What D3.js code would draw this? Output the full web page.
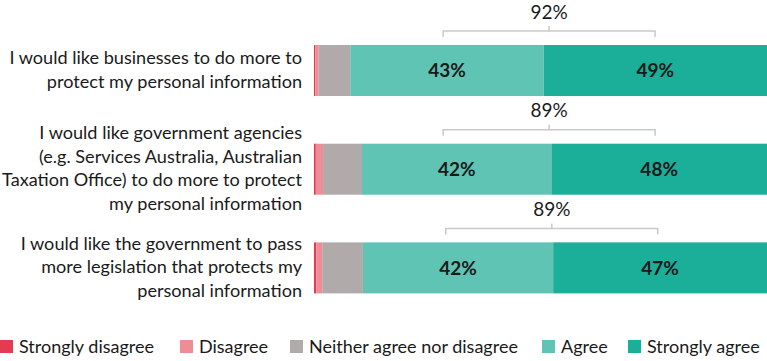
<!DOCTYPE html>
<html>
<head>
<meta charset="utf-8">
<script src="https://cdn.jsdelivr.net/npm/d3@7"></script>
<style>
  body { margin: 0; background: #fff; }
  svg { display: block; font-family: Lato, "Noto Sans", sans-serif; }
</style>
</head>
<body>
<div class="chart"></div>
<script>
// categories, one entry per bar, already split into lines
const categories = [
    ['I would like businesses to do more to', 'protect my personal information'],
    ['I would like government agencies', '(e.g. Services Australia, Australian', 'Taxation Office) to do more to protect', 'my personal information'],
    ['I would like the government to pass', 'more legislation that protects my', 'personal information']
];
const levels = ['Strongly disagree', 'Disagree', 'Neither agree nor disagree', 'Agree', 'Strongly agree'];
const stronglyDisagree = [0.3, 0.4, 0.5];
const disagree = [0.7, 1.6, 1.3];
const neither = [7.0, 8.6, 9.0];
const agree = [42.7, 41.8, 42.0];
const stronglyAgree = [49.3, 47.6, 47.2];
const netAgree = [92, 89, 89];
// span of the net agree bracket, in percent of the bar
const bracketFrom = [28.5, 28.5, 29.1];
const bracketTo = [75.3, 75.3, 75.9];

(function () {
    const width = 767, height = 361;
    const colors = ['#e23b52', '#ef8d97', '#b0abaa', '#5fc4b3', '#1bae98'];
    const series = [stronglyDisagree, disagree, neither, agree, stronglyAgree];

    const svg = d3.select('.chart').append('svg').attr('width', width).attr('height', height);

    const xScale = d3.scaleLinear().domain([0, 100]).range([314, 767]);
    const yScale = d3.scaleBand().domain(d3.range(categories.length)).range([45, 293.4]).paddingInner(0.483);

    // stack the rows
    const rows = categories.map(function (c, i) {
        let acc = 0;
        return series.map(function (s, k) {
            const seg = { row: i, key: k, x0: acc, x1: acc + s[i], v: s[i] };
            acc += s[i];
            return seg;
        });
    });

    const bars = svg.append('g');
    rows.forEach(function (segs) {
        bars.selectAll(null).data(segs).enter().append('rect')
            .attr('x', d => xScale(d.x0))
            .attr('y', d => yScale(d.row))
            .attr('width', d => xScale(d.x1) - xScale(d.x0))
            .attr('height', yScale.bandwidth())
            .attr('fill', d => colors[d.key]);

        // value labels on agree / strongly agree
        bars.selectAll(null).data(segs.filter(d => d.key >= 3)).enter().append('text')
            .attr('x', d => (xScale(d.x0) + xScale(d.x1)) / 2)
            .attr('y', d => yScale(d.row) + yScale.bandwidth() / 2)
            .attr('dy', '0.36em')
            .attr('text-anchor', 'middle')
            .attr('font-size', 19)
            .attr('font-weight', 'bold')
            .attr('fill', '#1a1a1a')
            .text(d => Math.round(d.v) + '%');
    });

    // category labels
    const lineH = 23.5;
    categories.forEach(function (lines, i) {
        const cy = yScale(i) + yScale.bandwidth() / 2;
        const t = svg.append('text')
            .attr('text-anchor', 'end')
            .attr('font-size', 18.1)
            .attr('fill', '#1a1a1a');
        lines.forEach(function (l, j) {
            t.append('tspan')
                .attr('x', 302)
                .attr('y', cy + (j - (lines.length - 1) / 2) * lineH - 1)
                .attr('dy', '0.35em')
                .text(l);
        });
    });

    // net agree brackets
    const br = svg.append('g').attr('stroke', '#c9c9c9').attr('stroke-width', 1.5).attr('fill', 'none');
    netAgree.forEach(function (n, i) {
        const top = yScale(i);
        const x1 = xScale(bracketFrom[i]), x2 = xScale(bracketTo[i]);
        const ly = top - 14;
        br.append('path').attr('d', `M${x1},${top - 8}V${ly}H${x2}V${top - 8}M${(x1 + x2) / 2},${ly}V${ly - 5}`);
        svg.append('text')
            .attr('x', (x1 + x2) / 2)
            .attr('y', ly - 19)
            .attr('dy', '0.35em')
            .attr('text-anchor', 'middle')
            .attr('font-size', 19)
            .attr('fill', '#1a1a1a')
            .text(n + '%');
    });

    // legend
    const legendX = [0, 180, 290, 542, 628];
    const legend = svg.append('g').attr('transform', 'translate(0,340)');
    const items = legend.selectAll('g').data(levels).enter().append('g')
        .attr('transform', (d, i) => `translate(${legendX[i]},0)`);
    items.append('rect').attr('width', 13).attr('height', 13).attr('fill', (d, i) => colors[i]);
    items.append('text')
        .attr('x', 19).attr('y', 6.5).attr('dy', '0.35em')
        .attr('font-size', 18).attr('fill', '#1a1a1a')
        .text(d => d);
})();
</script>
</body>
</html>
